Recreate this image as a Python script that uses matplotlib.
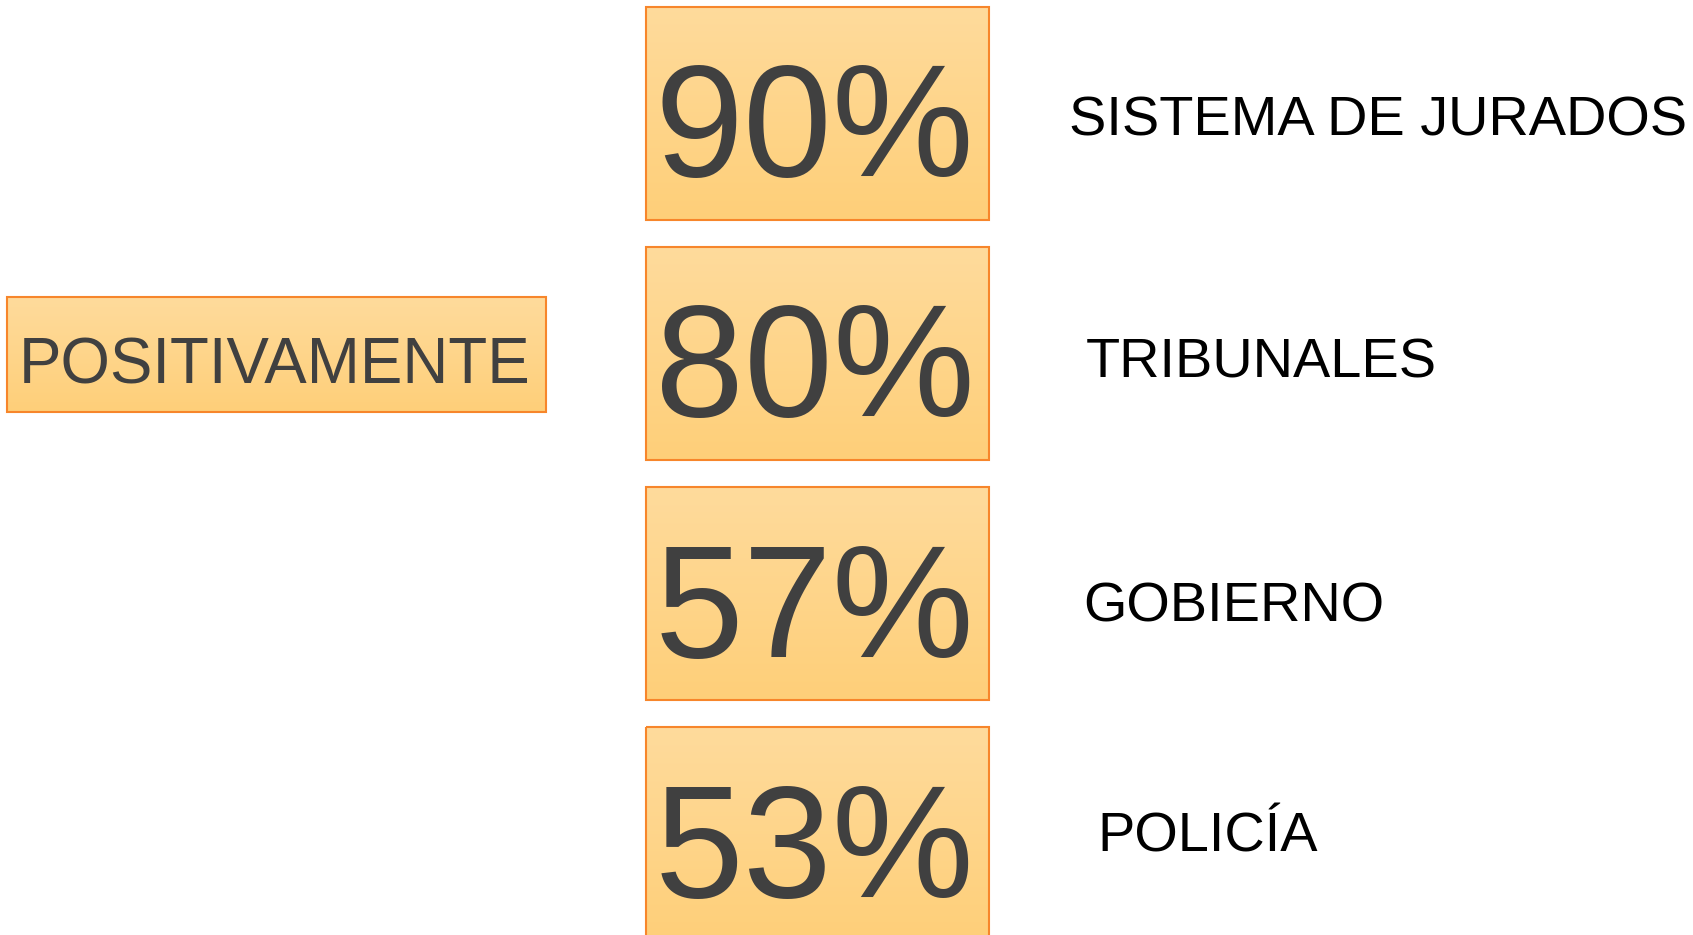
import numpy as np
import matplotlib
matplotlib.use("Agg")
import matplotlib.pyplot as plt
from matplotlib.patches import Rectangle
from matplotlib.colors import LinearSegmentedColormap

# datos
porcentajes = [90, 80, 57, 53]
instituciones = ["SISTEMA DE JURADOS", "TRIBUNALES", "GOBIERNO", "POLICÍA"]
titulo = "POSITIVAMENTE"

# layout (pixeles)
W, H = 1693, 935
box_x, box_w, box_h = 646, 343, 213
box_top0, paso = 6.5, 240.3
label_x = [1069, 1086, 1083, 1097]
label_base = [135, 377, 622, 851]

plt.rcParams['font.family'] = ['Liberation Sans', 'DejaVu Sans']

fig = plt.figure(figsize=(W / 100, H / 100), dpi=100)
ax = fig.add_axes([0, 0, 1, 1])
ax.set_xlim(0, W)
ax.set_ylim(H, 0)
ax.axis('off')

grad = LinearSegmentedColormap.from_list("naranja", ["#FFDB9C", "#FECF79"])
g = np.linspace(0, 1, 256).reshape(-1, 1)


def caja(x, y, w, h):
    ax.imshow(g, cmap=grad, aspect='auto', extent=(x, x + w, y + h, y), zorder=1)
    ax.add_patch(Rectangle((x, y), w, h, fill=False, edgecolor="#F7862B", lw=1.5, zorder=2))


# caja izquierda
caja(6.5, 297, 539, 115)
ax.text(19, 383, titulo, fontsize=45.8, color="#404040", va='baseline', ha='left', zorder=3)

for i, (p, nombre) in enumerate(zip(porcentajes, instituciones)):
    top = box_top0 + i * paso
    caja(box_x, top, box_w, box_h)
    ax.text(box_x + box_w / 2 - 3, top + 169.5, f"{p}%", fontsize=115, color="#404040",
            ha='center', va='baseline', zorder=3)
    ax.text(label_x[i], label_base[i], nombre, fontsize=40.2, color="black",
            ha='left', va='baseline', zorder=3)

ax.set_xlim(0, W)
ax.set_ylim(H, 0)
fig.savefig("out.png", dpi=100)
